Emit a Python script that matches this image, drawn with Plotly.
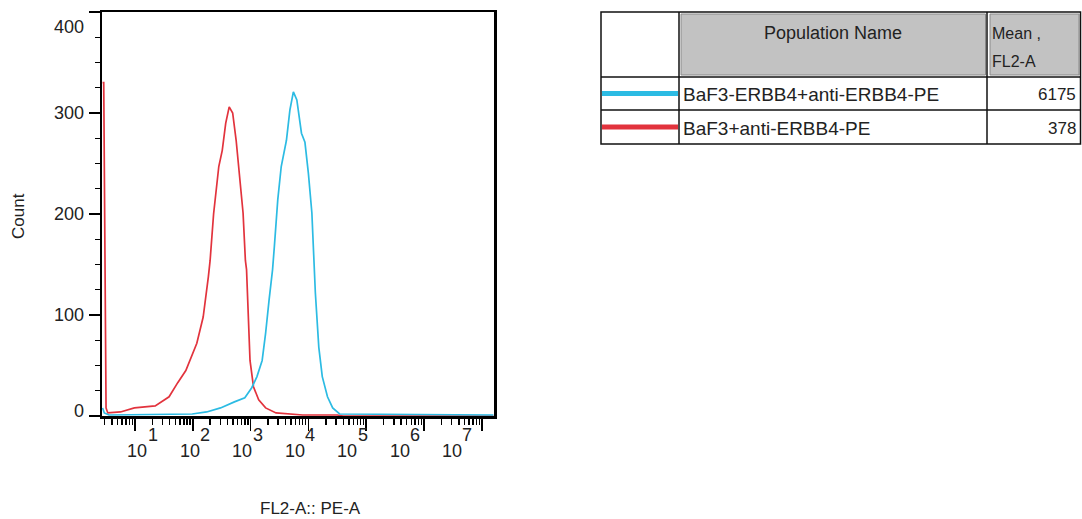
import numpy as np
import plotly.graph_objects as go

# ---------------- data ----------------
populations = ["BaF3-ERBB4+anti-ERBB4-PE", "BaF3+anti-ERBB4-PE"]
means = [6175, 378]

# histogram of BaF3+anti-ERBB4-PE (red): log10(FL2-A) and counts
red_log = [0.44, 0.46, 0.50, 0.53, 0.75, 0.99, 1.35, 1.59, 1.74, 1.88, 2.07, 2.18, 2.27,
           2.30, 2.36, 2.45, 2.51, 2.57, 2.63, 2.69, 2.75, 2.81, 2.87, 2.91, 2.93,
           2.99, 3.05, 3.14, 3.26, 3.44, 3.90, 4.50, 4.60, 7.20]
red_counts = [330, 330, 8, 3, 4, 8, 10, 19, 33, 45, 72, 98, 138,
              154, 200, 247, 263, 290, 306, 300, 273, 237, 201, 154, 145,
              55, 29, 16, 8, 3, 1, 1, 0, 0]

# histogram of BaF3-ERBB4+anti-ERBB4-PE (cyan)
cyan_log = [0.44, 0.47, 0.55, 1.99, 2.24, 2.48, 2.72, 2.90, 3.02, 3.11, 3.20, 3.26,
            3.32, 3.38, 3.41, 3.47, 3.53, 3.62, 3.68, 3.74, 3.80, 3.88, 3.94, 4.00,
            4.06, 4.09, 4.12, 4.18, 4.24, 4.33, 4.42, 4.54, 7.20]
cyan_counts = [8, 3, 1, 2, 4, 8, 14, 18, 28, 39, 55, 82,
               115, 145, 167, 214, 247, 273, 303, 321, 313, 280, 271, 240,
               201, 154, 122, 68, 39, 19, 8, 2, 1]

x_decades = [1, 2, 3, 4, 5, 6, 7]
y_ticks = [0, 100, 200, 300, 400]

# ---------------- style ----------------
W, H = 1082, 519
CYAN = "#2cbbe3"
RED = "#e2333d"
TXT = "#222222"
FONT = "Liberation Sans, Arial, sans-serif"
FS = 18


def px(x):
    """page pixel x -> paper fraction"""
    return x / W


def py(y):
    """page pixel y -> paper fraction"""
    return 1 - y / H


fig = go.Figure()
fig.add_trace(go.Scatter(x=10 ** np.array(red_log), y=red_counts, mode="lines",
                         line=dict(color=RED, width=1.7), name=populations[1],
                         showlegend=False, hoverinfo="skip"))
fig.add_trace(go.Scatter(x=10 ** np.array(cyan_log), y=cyan_counts, mode="lines",
                         line=dict(color=CYAN, width=1.7), name=populations[0],
                         showlegend=False, hoverinfo="skip"))

minor_vals = []
for d in range(0, 8):
    for m in range(2, 10):
        v = m * 10 ** d
        if 10 ** 0.43 < v < 10 ** 7.21:
            minor_vals.append(v)

fig.update_xaxes(type="log", range=[0.43, 7.21], domain=[px(102), px(494)],
                 tickvals=[10 ** k for k in x_decades], ticks="outside", ticklen=12,
                 tickwidth=1.6, tickcolor="black", showticklabels=False,
                 showline=True, linewidth=2.5, linecolor="black", mirror=True,
                 showgrid=False, zeroline=False, automargin=False,
                 minor=dict(tickvals=minor_vals, ticks="outside", ticklen=6,
                            tickwidth=1.4, tickcolor="black", showgrid=False))
fig.update_yaxes(range=[0, 400], domain=[py(416), py(12)],
                 tickvals=y_ticks, ticks="outside", ticklen=11, tickwidth=1.6,
                 tickcolor="black", showticklabels=False,
                 showline=True, linewidth=2.5, linecolor="black", mirror=True,
                 showgrid=False, zeroline=False, automargin=False,
                 minor=dict(dtick=25, ticks="outside", ticklen=5, tickwidth=1.4,
                            tickcolor="black", showgrid=False))

ann = []
# y tick labels (edge labels shifted inwards as in the original)
for v in y_ticks:
    shift = 0
    if v == 0:
        shift = 5
    elif v == 400:
        shift = -15
    ann.append(dict(text=str(v), xref="paper", yref="y", x=px(86), y=v, yshift=shift,
                    xanchor="right", yanchor="middle", showarrow=False,
                    font=dict(family=FONT, size=FS, color=TXT)))
# x tick labels: 10 with raised exponent
for i, k in enumerate(x_decades):
    bx = 137 + 52.5 * i
    ann.append(dict(text="10", xref="paper", yref="paper", x=px(bx), y=py(451),
                    xanchor="center", yanchor="middle", showarrow=False,
                    font=dict(family=FONT, size=FS, color=TXT)))
    ann.append(dict(text=str(k), xref="paper", yref="paper", x=px(bx + 15.5), y=py(435),
                    xanchor="center", yanchor="middle", showarrow=False,
                    font=dict(family=FONT, size=FS, color=TXT)))
# axis titles
ann.append(dict(text="FL2-A:: PE-A", xref="paper", yref="paper", x=px(310), y=py(508),
                xanchor="center", yanchor="middle", showarrow=False,
                font=dict(family=FONT, size=FS - 1, color=TXT)))
ann.append(dict(text="Count", xref="paper", yref="paper", x=px(18), y=py(216),
                xanchor="center", yanchor="middle", showarrow=False, textangle=-90,
                font=dict(family=FONT, size=FS - 1, color=TXT)))

# ---------------- statistics table ----------------
shapes = []
TL, TR, TT, TB = 601, 1080.5, 12, 144
C1, C2 = 679, 987
R1, R2 = 77, 110
# header grey cells
shapes.append(dict(type="rect", xref="paper", yref="paper", x0=px(681), x1=px(985.5),
                   y0=py(75), y1=py(14), fillcolor="#c2c2c2",
                   line=dict(color="#8a8a8a", width=1), layer="below"))
shapes.append(dict(type="rect", xref="paper", yref="paper", x0=px(990), x1=px(1079),
                   y0=py(75), y1=py(14), fillcolor="#c2c2c2",
                   line=dict(color="#8a8a8a", width=1), layer="below"))
# outer border
shapes.append(dict(type="rect", xref="paper", yref="paper", x0=px(TL), x1=px(TR),
                   y0=py(TB), y1=py(TT), line=dict(color="#111111", width=1.5)))
for xv in (C1, C2):
    shapes.append(dict(type="line", xref="paper", yref="paper", x0=px(xv), x1=px(xv),
                       y0=py(TB), y1=py(TT), line=dict(color="#111111", width=1.5)))
for yv in (R1, R2):
    shapes.append(dict(type="line", xref="paper", yref="paper", x0=px(TL), x1=px(TR),
                       y0=py(yv), y1=py(yv), line=dict(color="#111111", width=1.5)))
# legend swatches
row_y = [93.5, 127]
for col, yv in zip([CYAN, RED], row_y):
    shapes.append(dict(type="line", xref="paper", yref="paper", x0=px(602), x1=px(678),
                       y0=py(yv), y1=py(yv), line=dict(color=col, width=5)))

ann.append(dict(text="Population Name", xref="paper", yref="paper", x=px(833), y=py(33),
                xanchor="center", yanchor="middle", showarrow=False,
                font=dict(family=FONT, size=FS, color=TXT)))
ann.append(dict(text="Mean ,", xref="paper", yref="paper", x=px(990), y=py(33),
                xanchor="left", yanchor="middle", showarrow=False,
                font=dict(family=FONT, size=FS - 2, color=TXT)))
ann.append(dict(text="FL2-A", xref="paper", yref="paper", x=px(990), y=py(62),
                xanchor="left", yanchor="middle", showarrow=False,
                font=dict(family=FONT, size=FS - 2, color=TXT)))
for name, m, yv in zip(populations, means, row_y):
    ann.append(dict(text=name, xref="paper", yref="paper", x=px(681), y=py(yv + 1),
                    xanchor="left", yanchor="middle", showarrow=False,
                    font=dict(family=FONT, size=FS + 1, color=TXT)))
    ann.append(dict(text=str(m), xref="paper", yref="paper", x=px(1078), y=py(yv + 1),
                    xanchor="right", yanchor="middle", showarrow=False,
                    font=dict(family=FONT, size=FS - 1, color=TXT)))

fig.update_layout(width=W, height=H, autosize=False,
                  margin=dict(l=0, r=0, t=0, b=0, pad=0),
                  paper_bgcolor="white", plot_bgcolor="white",
                  showlegend=False, annotations=ann, shapes=shapes)

# remove the default page margin so the figure fills the 1082x519 window exactly
fig.write_html("out.html",
               config={"displayModeBar": False, "staticPlot": True},
               post_script="document.body.style.margin='0px';"
                           "document.documentElement.style.overflow='hidden';")
